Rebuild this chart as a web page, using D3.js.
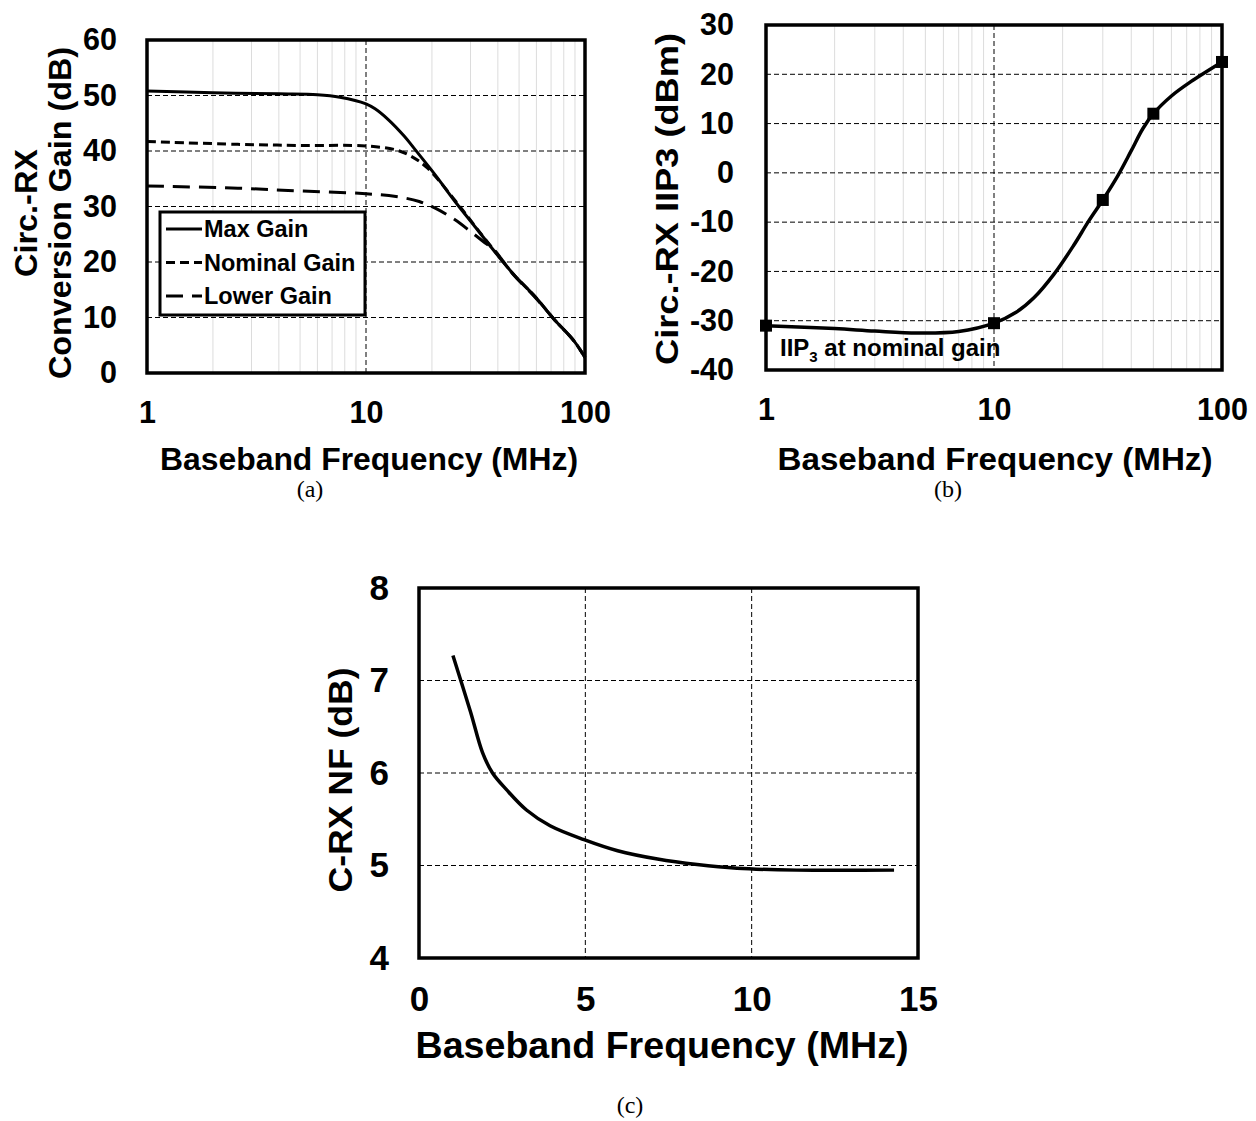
<!DOCTYPE html>
<html>
<head>
<meta charset="utf-8">
<script src="https://cdn.jsdelivr.net/npm/d3@7"></script>
<style>
  body { margin: 0; background: #fff; }
  text { font-family: "Liberation Sans", Arial, sans-serif; font-weight: bold; fill: #000; }
  text.cap { font-family: "Liberation Serif", "DejaVu Serif", serif; font-weight: normal; }
</style>
</head>
<body>
<svg id="fig" width="1256" height="1121"></svg>
<script>
// ---------- DATA ----------
// (a) conversion gain (dB) vs baseband frequency (MHz)
const maxGainF    = [1, 2, 4, 6, 7.6, 10, 11, 12.6, 15, 16.8, 20.7, 25.5, 31.4, 40.3, 47.6, 58.7, 72.2, 89, 100];
const maxGainDb   = [50.8, 50.5, 50.3, 50.15, 49.7, 48.5, 47.6, 45.7, 42.6, 40.2, 35.7, 30.9, 26.4, 21.0, 17.6, 13.9, 9.7, 5.8, 2.8];
const nomGainF    = [1, 2.6, 5, 10, 13.7, 16, 19, 25.5, 31.4, 40.3, 47.6, 58.7, 72.2, 89, 100];
const nomGainDb   = [41.7, 41.2, 41.0, 40.9, 40.2, 39.1, 37.0, 31.1, 26.5, 21.1, 17.6, 13.9, 9.7, 5.8, 2.8];
const lowGainF    = [1, 2.6, 5, 10, 13.7, 17.5, 20.7, 25.5, 30, 34.3, 38.6, 42, 47.6, 58.7, 72.2, 89, 100];
const lowGainDb   = [33.7, 33.3, 32.8, 32.3, 31.8, 30.9, 29.7, 27.6, 25.5, 23.7, 22.1, 20.3, 17.5, 13.8, 9.7, 5.8, 2.8];
const gainLegend  = ["Max Gain", "Nominal Gain", "Lower Gain"];
const gainTicks   = [0, 10, 20, 30, 40, 50, 60];

// (b) IIP3 (dBm) at nominal gain
const iipCurveF   = [1, 2, 3, 4.6, 7, 10, 12.5, 15, 18.3, 22.3, 26, 30, 35, 40, 45, 50, 60, 73, 100];
const iipCurveV   = [-31, -31.6, -32.1, -32.5, -32.2, -30.5, -28.3, -25.3, -20.6, -14.8, -9.8, -5.5, -0.5, 4.5, 9, 12, 15.6, 18.5, 22.5];
const iipMarkF    = [1, 10, 30, 50, 100];
const iipMarkV    = [-31, -30.5, -5.5, 12, 22.5];
const iipTicks    = [-40, -30, -20, -10, 0, 10, 20, 30];

// (c) noise figure (dB)
const nfF         = [1.02, 1.55, 1.91, 2.21, 2.63, 3.23, 3.94, 4.96, 5.97, 7.17, 8.36, 9.56, 11.35, 14.28];
const nfV         = [7.27, 6.66, 6.22, 6.0, 5.82, 5.6, 5.43, 5.28, 5.16, 5.07, 5.01, 4.97, 4.95, 4.95];
const nfTicks     = [4, 5, 6, 7, 8];
const nfXTicks    = [0, 5, 10, 15];

const logTicks    = [1, 10, 100];
const minorLog    = [2, 3, 4, 5, 6, 7, 8, 9, 20, 30, 40, 50, 60, 70, 80, 90];

const svg = d3.select("#fig");
svg.append("rect").attr("width", 1256).attr("height", 1121).attr("fill", "#fff");

// plain hyphen for negatives, like the original
const fmt = d => String(d);

// ---------- HELPERS ----------
function grid(g, x, y, xs, ys, box) {
  g.selectAll(null).data(ys).enter().append("line")
    .attr("x1", box.l).attr("x2", box.r)
    .attr("y1", d => y(d)).attr("y2", d => y(d))
    .attr("stroke", "#000").attr("stroke-width", 1)
    .attr("stroke-dasharray", "5,3");
  g.selectAll(null).data(xs).enter().append("line")
    .attr("y1", box.t).attr("y2", box.b)
    .attr("x1", d => x(d)).attr("x2", d => x(d))
    .attr("stroke", "#000").attr("stroke-width", 1)
    .attr("stroke-dasharray", "5,3");
}

function minor(g, x, box) {
  g.selectAll(null).data(minorLog).enter().append("line")
    .attr("y1", box.t).attr("y2", box.b)
    .attr("x1", d => x(d)).attr("x2", d => x(d))
    .attr("stroke", "#dcdcdc").attr("stroke-width", 1);
}

function axes(g, x, y, xt, yt, box, fs, padX, padY) {
  const ya = g.append("g").attr("transform", `translate(${box.l},0)`)
    .call(d3.axisLeft(y).tickValues(yt).tickSize(0).tickPadding(padY).tickFormat(fmt));
  const xa = g.append("g").attr("transform", `translate(0,${box.b})`)
    .call(d3.axisBottom(x).tickValues(xt).tickSize(0).tickPadding(padX).tickFormat(fmt));
  [ya, xa].forEach(a => {
    a.select(".domain").remove();
    a.selectAll("text").style("font-size", fs + "px")
      .style("font-family", '"Liberation Sans", Arial, sans-serif')
      .style("font-weight", "bold").attr("fill", "#000");
  });
}

function frame(g, box) {
  g.append("rect")
    .attr("x", box.l).attr("y", box.t)
    .attr("width", box.r - box.l).attr("height", box.b - box.t)
    .attr("fill", "none").attr("stroke", "#000").attr("stroke-width", 3.5);
}

function title(g, txt, x, y, len, fs, rot) {
  const t = g.append("text")
    .attr("text-anchor", "middle")
    .style("font-size", fs + "px")
    .attr("textLength", len).attr("lengthAdjust", "spacingAndGlyphs")
    .text(txt);
  if (rot) t.attr("transform", `translate(${x},${y}) rotate(-90)`);
  else t.attr("x", x).attr("y", y);
}

const pts = (xs, ys) => xs.map((d, i) => [d, ys[i]]);
const smooth = d3.curveCatmullRom.alpha(0.5);

// ---------- (a) CONVERSION GAIN ----------
{
  const box = { l: 147, r: 585, t: 40, b: 373 };
  const g = svg.append("g");
  const x = d3.scaleLog().domain([1, 100]).range([box.l, box.r]);
  const y = d3.scaleLinear().domain([0, 60]).range([box.b, box.t]);

  minor(g, x, box);
  grid(g, x, y, [10], gainTicks.slice(1, -1), box);

  const line = d3.line().x(d => x(d[0])).y(d => y(d[1])).curve(smooth);
  const series = [
    { p: pts(lowGainF, lowGainDb), dash: "17,9" },
    { p: pts(nomGainF, nomGainDb), dash: "9,5" },
    { p: pts(maxGainF, maxGainDb), dash: null }
  ];
  g.selectAll(null).data(series).enter().append("path")
    .attr("d", d => line(d.p))
    .attr("fill", "none").attr("stroke", "#000").attr("stroke-width", 3)
    .attr("stroke-dasharray", d => d.dash);

  frame(g, box);
  axes(g, x, y, logTicks, gainTicks, box, 30.5, 28, 30);

  // legend
  const lg = g.append("g");
  lg.append("rect").attr("x", 160).attr("y", 212).attr("width", 205).attr("height", 103)
    .attr("fill", "#fff").attr("stroke", "#000").attr("stroke-width", 3);
  const dashes = [null, "9,5", "17,9"];
  gainLegend.forEach((name, i) => {
    const yy = 229 + i * 33.5;
    lg.append("line").attr("x1", 166).attr("x2", 202).attr("y1", yy).attr("y2", yy)
      .attr("stroke", "#000").attr("stroke-width", 3).attr("stroke-dasharray", dashes[i]);
    lg.append("text").attr("x", 204).attr("y", yy + 8).style("font-size", "23.5px").text(name);
  });

  title(g, "Baseband Frequency (MHz)", 369, 470, 418, 31, false);
  title(g, "Circ.-RX", 37, 213, 128, 31, true);
  title(g, "Conversion Gain (dB)", 71, 213, 332, 31, true);
  g.append("text").attr("class", "cap").attr("x", 310).attr("y", 497)
    .attr("text-anchor", "middle").style("font-size", "24px").text("(a)");
}

// ---------- (b) IIP3 ----------
{
  const box = { l: 766, r: 1222, t: 25, b: 370 };
  const g = svg.append("g");
  const x = d3.scaleLog().domain([1, 100]).range([box.l, box.r]);
  const y = d3.scaleLinear().domain([-40, 30]).range([box.b, box.t]);

  minor(g, x, box);
  grid(g, x, y, [10], iipTicks.slice(1, -1), box);

  const line = d3.line().x(d => x(d[0])).y(d => y(d[1])).curve(smooth);
  g.append("path").attr("d", line(pts(iipCurveF, iipCurveV)))
    .attr("fill", "none").attr("stroke", "#000").attr("stroke-width", 3.5);

  frame(g, box);

  g.selectAll(null).data(pts(iipMarkF, iipMarkV)).enter().append("rect")
    .attr("x", d => x(d[0]) - 6).attr("y", d => y(d[1]) - 6)
    .attr("width", 12).attr("height", 12).attr("fill", "#000");

  axes(g, x, y, logTicks, iipTicks, box, 30.5, 28, 32);

  const ann = g.append("text").attr("x", 780).attr("y", 356).style("font-size", "24px");
  ann.append("tspan").text("IIP");
  ann.append("tspan").attr("dy", 6).style("font-size", "15px").text("3");
  ann.append("tspan").attr("dy", -6).text(" at nominal gain");

  title(g, "Baseband Frequency (MHz)", 995, 470, 435, 31, false);
  title(g, "Circ.-RX IIP3 (dBm)", 678, 199, 332, 31, true);
  g.append("text").attr("class", "cap").attr("x", 948).attr("y", 497)
    .attr("text-anchor", "middle").style("font-size", "24px").text("(b)");
}

// ---------- (c) NOISE FIGURE ----------
{
  const box = { l: 419, r: 918, t: 588, b: 958 };
  const g = svg.append("g");
  const x = d3.scaleLinear().domain([0, 15]).range([box.l, box.r]);
  const y = d3.scaleLinear().domain([4, 8]).range([box.b, box.t]);

  grid(g, x, y, nfXTicks.slice(1, -1), nfTicks.slice(1, -1), box);

  const line = d3.line().x(d => x(d[0])).y(d => y(d[1])).curve(smooth);
  g.append("path").attr("d", line(pts(nfF, nfV)))
    .attr("fill", "none").attr("stroke", "#000").attr("stroke-width", 3.5);

  frame(g, box);
  axes(g, x, y, nfXTicks, nfTicks, box, 35, 28, 30);

  title(g, "Baseband Frequency (MHz)", 662, 1058, 493, 36, false);
  title(g, "C-RX NF (dB)", 352, 780, 225, 34, true);
  g.append("text").attr("class", "cap").attr("x", 630).attr("y", 1113)
    .attr("text-anchor", "middle").style("font-size", "24px").text("(c)");
}
</script>
</body>
</html>
